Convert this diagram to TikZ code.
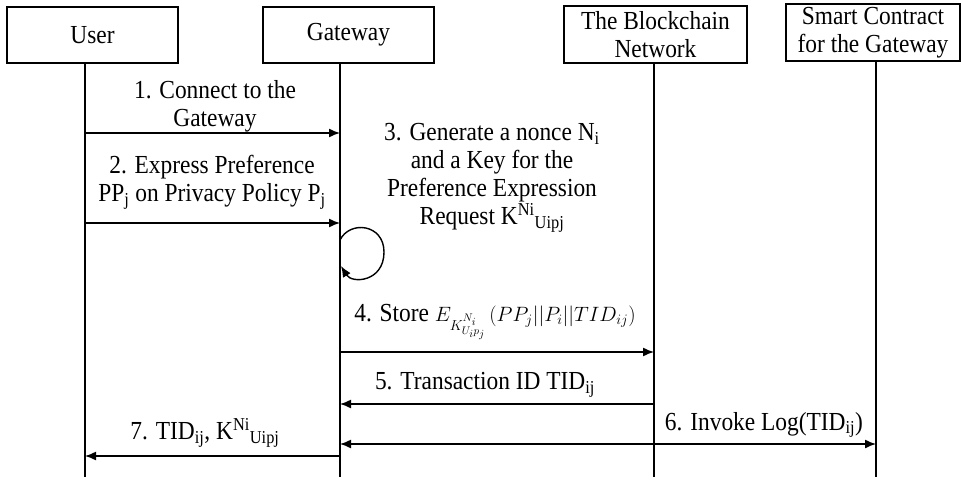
\documentclass[tikz,border=0pt]{standalone}
\usepackage{fontspec}
\setmainfont[FakeStretch=0.9]{Liberation Serif}
\usetikzlibrary{arrows.meta}
\begin{document}
\begin{tikzpicture}[x=1pt,y=-1pt,
  actor/.style={draw,line width=1.6pt,inner sep=0pt,align=center,font=\fontsize{26}{28}\selectfont},
  lbl/.style={inner sep=0pt,align=center,font=\fontsize{26}{28}\selectfont},
  life/.style={line width=1.4pt},
  msg/.style={line width=1.4pt,-{Latex[length=11pt,width=9pt]}},
  bimsg/.style={line width=1.4pt,{Latex[length=11pt,width=9pt]}-{Latex[length=11pt,width=9pt]}}]
\useasboundingbox (0,0) rectangle (961,482);
% actors
\node[actor,minimum width=171pt,minimum height=56pt] (user) at (92.5,35) {User};
\node[actor,minimum width=171pt,minimum height=56pt] (gw) at (348.5,35) {Gateway};
\node[actor,minimum width=183pt,minimum height=57pt] (bc) at (655.5,34.5) {The Blockchain\\Network};
\node[actor,minimum width=174pt,minimum height=57pt] (sc) at (873,32.5) {Smart Contract\\for the Gateway};
% lifelines
\coordinate (uT) at (85,63);   \coordinate (uB) at (85,477);
\coordinate (gT) at (340,63);  \coordinate (gB) at (340,477);
\coordinate (bT) at (654,63);  \coordinate (bB) at (654,477);
\coordinate (sT) at (876,61);  \coordinate (sB) at (876,477);
\draw[life] (uT) -- (uB);
\draw[life] (gT) -- (gB);
\draw[life] (bT) -- (bB);
\draw[life] (sT) -- (sB);
% message anchor points
\coordinate (u1) at (85,133);  \coordinate (g1) at (340,133);
\coordinate (u2) at (85,223);  \coordinate (g2) at (340,223);
\coordinate (g3s) at (340,240); \coordinate (g3e) at (341,266);
\coordinate (g4) at (340,352); \coordinate (b4) at (654,352);
\coordinate (b5) at (654,404); \coordinate (g5) at (340,404);
\coordinate (g6) at (340,444); \coordinate (s6) at (876,444);
\coordinate (g7) at (340,456); \coordinate (u7) at (85,456);
% messages
\draw[msg] (u1) -- (g1);
\draw[msg] (u2) -- (g2);
\draw[msg] (g3s) .. controls (350,220) and (384,224) .. (384,252)
                 .. controls (384,282) and (352,284) .. (g3e);
\draw[msg] (g4) -- (b4);
\draw[msg] (b5) -- (g5);
\draw[bimsg] (g6) -- (s6);
\draw[msg] (g7) -- (u7);
% labels
\node[lbl] (l1) at (215,106) {1. Connect to the\\Gateway};
\node[lbl] (l2) at (212,182) {2. Express Preference\\PP\textsubscript{j} on Privacy Policy P\textsubscript{j}};
\node[lbl] (l3) at (492,178) {3. Generate a nonce N\textsubscript{i}\\and a Key for the\\Preference Expression\\Request K\textsuperscript{Ni}\textsubscript{Uipj}};
\node[lbl] (l4) at (495,322) {4. Store {\fontsize{22}{28}\selectfont$E_{K^{N_i}_{U_i p_j}}\,(PP_j||P_i||TID_{ij})$}};
\node[lbl] (l5) at (485,385) {5. Transaction ID TID\textsubscript{ij}};
\node[lbl] (l6) at (764,425) {6. Invoke Log(TID\textsubscript{ij})};
\node[lbl] (l7) at (205,433) {7. TID\textsubscript{ij}, K\textsuperscript{Ni}\textsubscript{Uipj}};
\end{tikzpicture}
\end{document}
